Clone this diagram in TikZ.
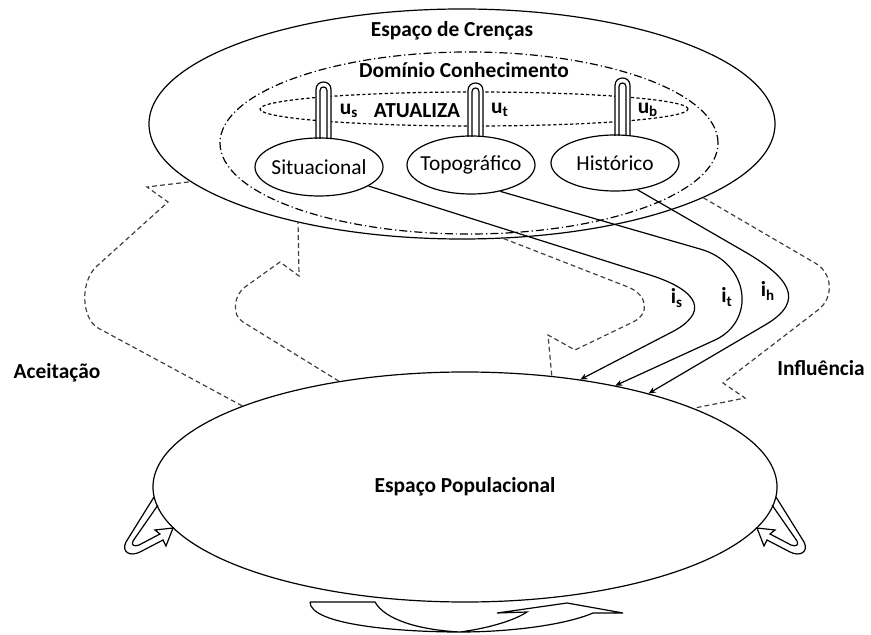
\documentclass[tikz,border=0pt]{standalone}
\usepackage{fontspec}
\setmainfont{Carlito}
\usetikzlibrary{arrows.meta,shapes.geometric}
\def\hairpin[#1](#2,#3)(#4:#5){\draw[#1] (#2-#5,#4) -- (#2-#5,#3+#5) .. controls (#2-#5,#3-#5/3) and (#2+#5,#3-#5/3) .. (#2+#5,#3+#5) -- (#2+#5,#4);}
\def\sideloop{\draw (154,497) -- (126,542) .. controls (121,552) and (130,557) .. (140,552) -- (163,540) -- (166,546) -- (173,528) -- (155,530) -- (160,534) -- (139,545) .. controls (134,547) and (131,545) .. (133,541) -- (158,505);}

\begin{document}
\begin{tikzpicture}[x=0.5pt, y=-0.5pt, line width=0.6pt,
	every node/.style={font=\fontsize{10.7}{12.5}\selectfont},
	title/.style={font=\fontsize{10.7}{12.5}\selectfont\bfseries},
	space/.style={ellipse, draw, inner sep=0pt, minimum height=115pt},
	subspace/.style={ellipse, draw, inner sep=0pt, minimum width=64pt, minimum height=29pt},
	domline/.style={dash pattern=on 4pt off 1.5pt on 0.6pt off 1.5pt},
	updline/.style={dash pattern=on 1.6pt off 1.2pt},
	flowline/.style={dash pattern=on 2.4pt off 1.6pt, draw=black!75},
	infl/.style={-{Stealth[length=3.5pt,width=3pt]}}]
			%%%%% START %%%%%
			\useasboundingbox (0,0) rectangle (871,635);
			
			% espaco de crencas
			\node[space, minimum width=313pt] (bel) at (462,124) {};
			\node[ellipse, draw, domline, inner sep=0pt, minimum width=249pt, minimum height=91pt] (dom) at (469,143) {};
			\node[ellipse, draw, updline, inner sep=0pt, minimum width=214pt, minimum height=17pt] (upd) at (474,109) {};
			\node[title] (belname) at (452,31) {Espaço de Crenças};
			\node[title] (domname) at (464,70) {Domínio Conhecimento};
			\node[title] (updname) at (417,111) {ATUALIZA};
			
			\hairpin[fill=white](323.5,82)(139:7.5);
			\hairpin[](323.5,87)(139:3.5);
			\hairpin[fill=white](475.5,83)(137:7.5);
			\hairpin[](475.5,88)(137:3.5);
			\hairpin[fill=white](622.5,78)(136:7.5);
			\hairpin[](622.5,83)(136:3.5);
			
			\node[subspace, label=center:Situacional] (sit) at (319,167) {};
			\node[subspace, label=center:Topográfico] (topo) at (471,165) {};
			\node[subspace, minimum height=28pt, label=center:Histórico] (hist) at (615,163) {};
			
			\node[title] (us) at (349,111) {u\textsubscript{s}};
			\node[title] (ut) at (500,110) {u\textsubscript{t}};
			\node[title] (ub) at (648,110) {u\textsubscript{b}};
			
			% espaco populacional
			\node[space, minimum width=312pt, title] (pop) at (465,487) {Espaço Populacional};
			
			% influencias
			\draw[infl] (sit.-21) -- (650,275) .. controls (700,291) and (710,313) .. (670,333) -- (pop.43);
			\draw[infl] (topo.-42) -- (700,249) .. controls (750,263) and (756,321) .. (715,340) -- (pop.34);
			\draw[infl] (hist.-50) -- (740,249) .. controls (788,276) and (808,300) .. (765,325) -- (pop.27);
			\node[title] (is) at (677,298) {i\textsubscript{s}};
			\node[title] (it) at (727,297) {i\textsubscript{t}};
			\node[title] (ih) at (768,291) {i\textsubscript{h}};
			
			% aceitacao
			\draw[flowline] (pop.160) -- (98,328) .. controls (81,318) and (80,281) .. (97,266) -- (168,202) -- (147,187) -- (bel.192);
			\draw[flowline] (pop.140) -- (243,322) .. controls (231,315) and (234,295) .. (245,287) -- (280,262) -- (299,276) -- (bel.211);
			\node[title] (acc) at (57,373) {Aceitação};
			
			% influencia
			\draw[flowline] (bel.-17) -- (815,263) .. controls (833,273) and (834,298) .. (818,310) -- (723,383) -- (745,398) -- (pop.19);
			\draw[flowline] (bel.-70) -- (628,287) .. controls (648,295) and (650,314) .. (633,322) -- (575,350) -- (548,335) -- (pop.52);
			\node[title] (inf) at (821,368) {Influência};
			
			% laços
			\sideloop
			\begin{scope}[shift={(930,0)}, xscale=-1]
				\sideloop
			\end{scope}
			\draw (310,602) -- (375,602) .. controls (385,620) and (420,630) .. (460,632) .. controls (400,632) and (310,625) .. (310,602);
			\draw (460,632) .. controls (490,628) and (515,620) .. (527,612) -- (497,613) -- (567,603) -- (623,613) -- (593,613) .. controls (565,625) and (510,632) .. (460,632);
			
			%%%%% END %%%%%
\end{tikzpicture}
\end{document}
